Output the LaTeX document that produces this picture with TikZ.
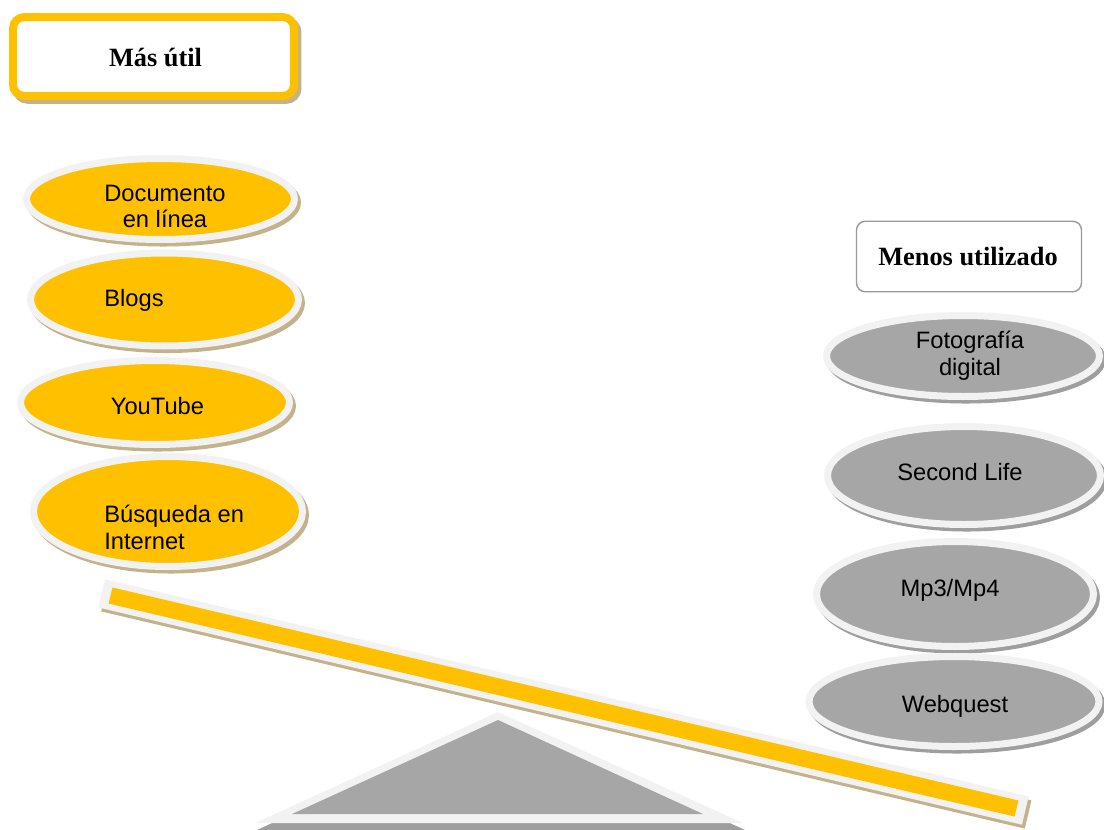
\documentclass[tikz,border=0pt]{standalone}
\usepackage{fontspec}
\setmainfont{Liberation Serif}
\setsansfont{Liberation Sans}
\usetikzlibrary{shapes.geometric}
\definecolor{gold}{HTML}{FFC000}
\definecolor{rim}{HTML}{F2F2F2}
\definecolor{shadowtan}{HTML}{C3B28A}
\definecolor{midgray}{HTML}{A6A6A6}
\definecolor{shadowgray}{HTML}{9E9E9E}
\definecolor{boxline}{HTML}{9A9A9A}
\tikzset{
  ov/.style={ellipse, draw=rim, line width=0.14cm, inner sep=0pt},
  goldov/.style={ov, fill=gold, preaction={draw=shadowtan, fill=shadowtan, line width=0.14cm, transform canvas={shift={(1.7pt,-2.0pt)}}}},
  grayov/.style={ov, fill=midgray, preaction={draw=shadowgray, fill=shadowgray, line width=0.14cm, transform canvas={shift={(1.7pt,-2.0pt)}}}},
  txt/.style={font=\sffamily\fontsize{13.5}{15.3}\selectfont, inner sep=0pt, align=center, text=black},
  ltxt/.style={txt, align=left, anchor=west},
  titletxt/.style={font=\bfseries\fontsize{15}{18}\selectfont, inner sep=0pt, text=black}
}
\begin{document}
\begin{tikzpicture}[x=0.02cm,y=-0.02cm]
\useasboundingbox[fill=white] (0,0) rectangle (1104,829);

% title boxes
\node[rectangle, rounded corners=6.5pt, draw=gold, line width=0.16cm, fill=white,
      minimum width=5.62cm, minimum height=1.58cm,
      preaction={draw=shadowtan, fill=shadowtan, line width=0.16cm, transform canvas={shift={(2.0pt,-2.2pt)}}}]
      (mas) at (153.5,56.5) {};
\node[titletxt] (tmas) at (155.5,58) {Más útil};

\node[rectangle, rounded corners=5pt, draw=boxline, line width=0.8pt, fill=white,
      minimum width=4.50cm, minimum height=1.41cm] (menos) at (969,256.5) {};
\node[titletxt] (tmenos) at (968,257) {Menos utilizado};

% left ellipses
\node[goldov, minimum width=5.36cm, minimum height=1.62cm] (doc) at (160.5,199) {};
\node[txt] (tdoc) at (165,206.5) {Documento\\en línea};
\node[goldov, minimum width=5.36cm, minimum height=1.86cm] (blogs) at (164.5,299.5) {};
\node[ltxt] (tblogs) at (104,300) {Blogs};
\node[goldov, minimum width=5.38cm, minimum height=1.68cm] (yt) at (155,402.5) {};
\node[txt] (tyt) at (157.5,406) {YouTube};
\node[goldov, minimum width=5.38cm, minimum height=2.20cm] (bus) at (168,511.5) {};
\node[ltxt] (tbus) at (104,527) {Búsqueda en\\Internet};

% right ellipses
\node[grayov, minimum width=5.46cm, minimum height=1.62cm] (foto) at (963,356) {};
\node[txt] (tfoto) at (970,355.5) {Fotografía\\digital};
\node[grayov, minimum width=5.46cm, minimum height=1.96cm] (sl) at (964,475.5) {};
\node[txt] (tsl) at (960,472) {Second Life};
\node[grayov, minimum width=5.54cm, minimum height=2.10cm] (mp) at (955,594) {};
\node[txt] (tmp) at (950,590) {Mp3/Mp4};
\node[grayov, minimum width=5.80cm, minimum height=1.80cm] (wq) at (954,701.5) {};
\node[txt] (twq) at (955,706) {Webquest};

% fulcrum
\fill[shadowgray] (257,830) -- (500,718) -- (745,830) -- cycle;
\fill[rim] (255,823) -- (498,712) -- (743,823) -- cycle;
\fill[midgray] (292,814) -- (498,720) -- (703,814) -- cycle;

% beam
\coordinate (oL) at (101.7,593.4);
\coordinate (oR) at (1025.3,810.6);
\coordinate (gL) at (110.5,595.5);
\coordinate (gR) at (1016.5,808.5);
\draw[shadowtan, line width=0.58cm, transform canvas={shift={(1.6pt,-2.2pt)}}] (oL) -- (oR);
\draw[rim, line width=0.58cm] (oL) -- (oR);
\draw[gold, line width=0.33cm] (gL) -- (gR);
\end{tikzpicture}
\end{document}
